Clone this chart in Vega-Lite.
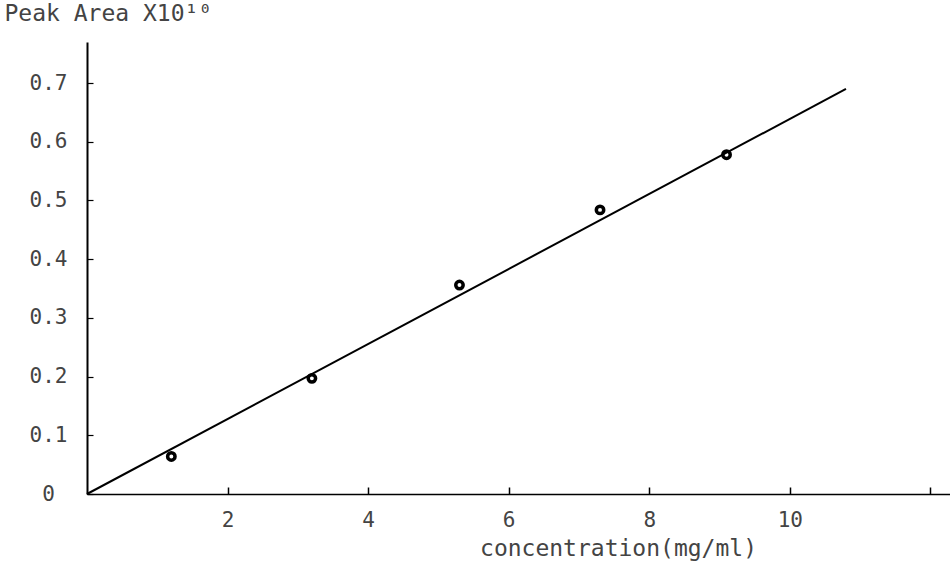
{
  "$schema": "https://vega.github.io/schema/vega-lite/v6.json",
  "width": 863,
  "height": 452,
  "autosize": "none",
  "padding": {"left": 87, "top": 42, "right": 0, "bottom": 68},
  "background": "white",
  "config": {
    "view": {"stroke": null},
    "axis": {
      "labelFont": "DejaVu Sans Mono",
      "titleFont": "DejaVu Sans Mono",
      "labelColor": "#444",
      "titleColor": "#444",
      "labelFontSize": 21,
      "titleFontSize": 23,
      "titleFontWeight": "normal",
      "domainColor": "black",
      "tickColor": "black",
      "grid": false
    }
  },
  "datasets": {
    "points": [
      {"c": 1.2, "a": 0.064},
      {"c": 3.2, "a": 0.197},
      {"c": 5.3, "a": 0.356},
      {"c": 7.3, "a": 0.484},
      {"c": 9.1, "a": 0.578}
    ],
    "fit": [
      {"c": 0, "a": 0},
      {"c": 10.8, "a": 0.69}
    ]
  },
  "layer": [
    {
      "data": {"name": "fit"},
      "mark": {"type": "line", "color": "black", "strokeWidth": 2},
      "encoding": {
        "x": {
          "field": "c", "type": "quantitative",
          "scale": {"domain": [0, 12.28], "nice": false, "zero": false},
          "axis": {
            "title": "concentration(mg/ml)",
            "values": [2, 4, 6, 8, 10, 12],
            "labelExpr": "datum.value == 12 ? '' : format(datum.value, 'd')",
            "tickSize": -7,
            "tickWidth": 1.5,
            "labelPadding": 22,
            "domainWidth": 1.5,
            "titleX": 531,
            "titleY": 54,
            "titleBaseline": "middle",
            "titleAnchor": null,
            "titleAlign": "center"
          }
        },
        "y": {
          "field": "a", "type": "quantitative",
          "scale": {"domain": [0, 0.77], "nice": false},
          "axis": {
            "title": "Peak Area X10¹⁰",
            "values": [0, 0.1, 0.2, 0.3, 0.4, 0.5, 0.6, 0.7],
            "labelExpr": "datum.value == 0 ? '0' : format(datum.value, '.1f')",
            "tickSize": -6,
            "tickWidth": 1.2,
            "domainWidth": 2,
            "labelAlign": "center",
            "labelPadding": 45,
            "titleAngle": 0,
            "titleAlign": "left",
            "titleBaseline": "middle",
            "titleX": -83,
            "titleY": -29,
            "titleAnchor": null
          }
        }
      }
    },
    {
      "data": {"name": "points"},
      "mark": {"type": "point", "shape": "circle", "filled": false, "color": "black", "opacity": 1, "strokeWidth": 3.5, "size": 55},
      "encoding": {
        "x": {"field": "c", "type": "quantitative"},
        "y": {"field": "a", "type": "quantitative"}
      }
    }
  ]
}
